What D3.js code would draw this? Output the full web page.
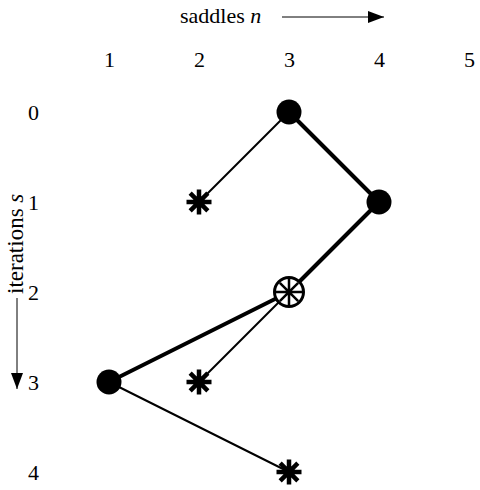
<!DOCTYPE html>
<html>
<head>
<meta charset="utf-8">
<script src="https://cdn.jsdelivr.net/npm/d3@7"></script>
<style>
  body { margin: 0; background: #fff; }
  text { font-family: "Liberation Serif", "Times New Roman", serif; fill: #000; }
</style>
</head>
<body>
<div id="chart"></div>
<script>
// grid labels
var saddles = [1, 2, 3, 4, 5];
var iterations = [0, 1, 2, 3, 4];

// nodes: saddle count n, iteration s, marker kind
var nodeN    = [3, 4, 2, 3, 1, 2, 3];
var nodeS    = [0, 1, 1, 2, 3, 3, 4];
var nodeKind = ["dot", "dot", "star", "ring", "dot", "star", "star"];

// edges between node indices, thick = main path
var edgeFrom  = [0, 1, 3, 0, 3, 4];
var edgeTo    = [1, 3, 4, 2, 5, 6];
var edgeThick = [true, true, true, false, false, false];

var width = 480, height = 490;

var svg = d3.select("#chart").append("svg")
    .attr("width", width)
    .attr("height", height);

var x = d3.scaleLinear().domain([1, 5]).range([109, 469]);
var y = d3.scaleLinear().domain([0, 4]).range([112, 472]);

// arrow marker
svg.append("defs").append("marker")
    .attr("id", "arrow")
    .attr("viewBox", "0 0 16 12")
    .attr("refX", 16).attr("refY", 6)
    .attr("markerWidth", 16).attr("markerHeight", 12)
    .attr("markerUnits", "userSpaceOnUse")
    .attr("orient", "auto")
  .append("path")
    .attr("d", "M0,0 L16,6 L0,12 Z")
    .attr("fill", "#000");

// top axis labels
var topAxis = svg.append("g")
    .attr("transform", "translate(0,67)")
    .call(d3.axisTop(x).tickValues(saddles).tickSize(0).tickPadding(0).tickFormat(d3.format("d")));
topAxis.select(".domain").remove();
topAxis.selectAll("text").style("font-size", "22px").attr("font-family", null);

// left axis labels
var leftAxis = svg.append("g")
    .attr("transform", "translate(39,0)")
    .call(d3.axisLeft(y).tickValues(iterations).tickSize(0).tickPadding(0).tickFormat(d3.format("d")));
leftAxis.select(".domain").remove();
leftAxis.selectAll("text").style("font-size", "22px").attr("font-family", null);

// axis titles
var tTop = svg.append("text")
    .attr("x", 180).attr("y", 23)
    .style("font-size", "22px");
tTop.append("tspan").text("saddles ");
tTop.append("tspan").style("font-style", "italic").text("n");

svg.append("line")
    .attr("x1", 282).attr("y1", 17).attr("x2", 384).attr("y2", 17)
    .attr("stroke", "#000").attr("stroke-width", 1)
    .attr("marker-end", "url(#arrow)");

var tLeft = svg.append("text")
    .attr("transform", "translate(23,294) rotate(-90)")
    .style("font-size", "23px");
tLeft.append("tspan").text("iterations ");
tLeft.append("tspan").style("font-style", "italic").text("s");

svg.append("line")
    .attr("x1", 17).attr("y1", 298).attr("x2", 17).attr("y2", 389)
    .attr("stroke", "#000").attr("stroke-width", 1)
    .attr("marker-end", "url(#arrow)");

// edges
svg.append("g").selectAll("line")
    .data(edgeFrom)
  .enter().append("line")
    .attr("x1", function(d) { return x(nodeN[d]); })
    .attr("y1", function(d) { return y(nodeS[d]); })
    .attr("x2", function(d, i) { return x(nodeN[edgeTo[i]]); })
    .attr("y2", function(d, i) { return y(nodeS[edgeTo[i]]); })
    .attr("stroke", "#000")
    .attr("stroke-width", function(d, i) { return edgeThick[i] ? 4 : 2; });

// asterisk path helper
function star(r) {
  var p = "";
  for (var k = 0; k < 4; k++) {
    var a = k * Math.PI / 4;
    var dx = r * Math.sin(a), dy = r * Math.cos(a);
    p += "M" + (-dx) + "," + (-dy) + "L" + dx + "," + dy;
  }
  return p;
}

var nodes = svg.append("g").selectAll("g")
    .data(nodeN)
  .enter().append("g")
    .attr("transform", function(d, i) { return "translate(" + x(d) + "," + y(nodeS[i]) + ")"; });

nodes.filter(function(d, i) { return nodeKind[i] === "dot"; })
  .append("circle")
    .attr("r", 12.5)
    .attr("fill", "#000");

nodes.filter(function(d, i) { return nodeKind[i] === "star"; })
  .append("path")
    .attr("d", star(12.5))
    .attr("stroke", "#000")
    .attr("stroke-width", 4.5);

var ring = nodes.filter(function(d, i) { return nodeKind[i] === "ring"; });
ring.append("circle")
    .attr("r", 14.5)
    .attr("fill", "#fff")
    .attr("stroke", "#000")
    .attr("stroke-width", 3);
ring.append("path")
    .attr("d", star(13))
    .attr("stroke", "#000")
    .attr("stroke-width", 2.5);
</script>
</body>
</html>
